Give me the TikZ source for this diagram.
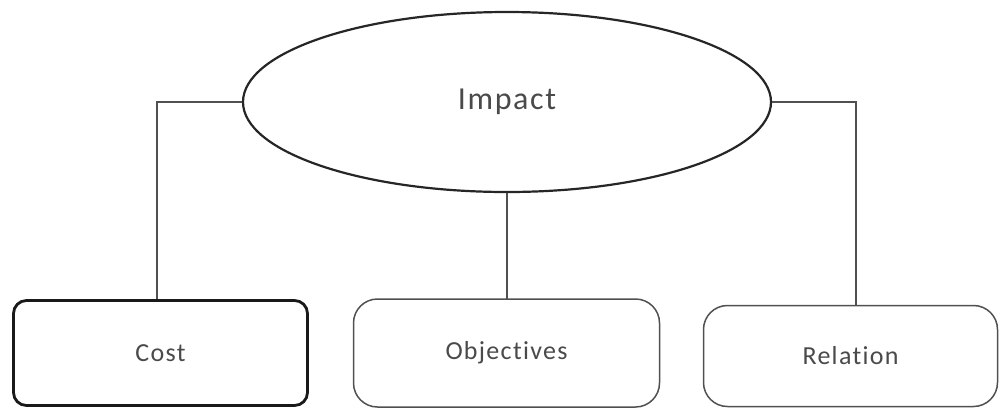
\documentclass[tikz,border=0pt]{standalone}
\usepackage{fontspec}
\setmainfont{Carlito}[LetterSpace=5,Ligatures={NoCommon}]
\usetikzlibrary{shapes.geometric}
\definecolor{ink}{HTML}{4A4A4A}
\definecolor{wire}{HTML}{505050}
\tikzset{
  hub/.style={ellipse, draw=black!85, line width=2.2pt, fill=white, inner sep=0pt,
    minimum width=528pt, minimum height=180pt, text=ink, font=\fontsize{32}{36}\selectfont},
  leaf/.style={rectangle, draw=wire, line width=1.5pt, fill=white, inner sep=0pt,
    rounded corners=24pt, text=ink, font=\fontsize{26}{30}\selectfont},
  boldleaf/.style={leaf, draw=black!90, line width=2.8pt, rounded corners=13pt},
  link/.style={draw=wire, line width=1.5pt}
}
\begin{document}
\begin{tikzpicture}[x=1pt,y=-1pt]
  \useasboundingbox (0,0) rectangle (1000,408);
  % connectors first, so the shapes sit on top of them
  \coordinate (lc) at (157,300);
  \coordinate (mc) at (507,300);
  \coordinate (rc) at (856,306);
  \node[hub] (imp) at (507,102) {Impact};
  \draw[link] (imp.west) -| (lc);
  \draw[link] (imp.south -| mc) -- (mc);
  \draw[link] (imp.east) -| (rc);
  \node[boldleaf, minimum width=294pt, minimum height=105pt] (cost) at (160.5,353) {Cost};
  \node[leaf, minimum width=306pt, minimum height=108pt] (obj) at (506.5,353) {Objectives};
  \node[leaf, minimum width=294pt, minimum height=101pt] (rel) at (850.5,356) {Relation};
\end{tikzpicture}
\end{document}
